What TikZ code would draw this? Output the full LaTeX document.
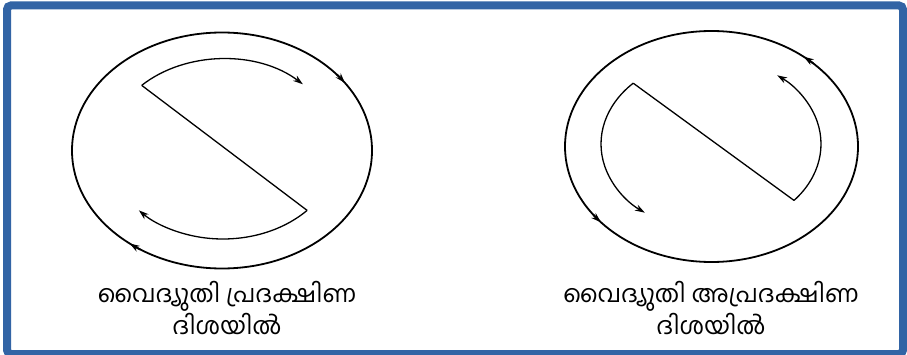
\documentclass[tikz,border=0pt]{standalone}
\usepackage{fontspec}
\newfontfamily\mlfont[Script=Malayalam]{Hind Kochi}
\usetikzlibrary{arrows.meta}
\definecolor{frameblue}{RGB}{50,100,165}
\begin{document}
\begin{tikzpicture}[x=1pt,y=1pt,
  outerline/.style={line width=1.8pt},
  innerline/.style={line width=1.3pt},
  tipped/.style={-{Stealth[length=10pt,width=6.5pt]}},
  lbl/.style={font=\mlfont\fontsize{24}{23}\selectfont, align=center, inner sep=0pt}]
\useasboundingbox (0,0) rectangle (907,354);
\fill[white] (0,0) rectangle (907,354);
\draw[frameblue, line width=8pt, rounded corners=4pt] (7,0) rectangle (903,348.5);

% ---------- left figure (clockwise) ----------
\coordinate (LO) at (222,203.5);
\coordinate (LI) at (223,205);
\draw[outerline] (LO) ellipse [x radius=150, y radius=118];
\draw[outerline, tipped] (LO) ++(40:150 and 118) arc[start angle=40, end angle=35, x radius=150, y radius=118];
\draw[outerline, tipped] (LO) ++(237:150 and 118) arc[start angle=237, end angle=232, x radius=150, y radius=118];
\draw[innerline, tipped] (LI) ++(135:115 and 90) arc[start angle=135, end angle=46, x radius=115, y radius=90];
\draw[innerline, tipped] (LI) ++(-43:115 and 90) arc[start angle=-43, end angle=-137, x radius=115, y radius=90];
\path (LI) ++(135:115 and 90) coordinate (la) (LI) ++(-43:115 and 90) coordinate (lb);
\draw[innerline] (la) -- (lb);

\node[lbl] (leftlabel) at (227,46) {വൈദ്യുതി പ്രദക്ഷിണ\\ദിശയിൽ};

% ---------- right figure (anticlockwise) ----------
\coordinate (RO) at (711.5,207.5);
\coordinate (RI) at (711,210);
\draw[outerline] (RO) ellipse [x radius=146.5, y radius=115.5];
\draw[outerline, tipped] (RO) ++(46:146.5 and 115.5) arc[start angle=46, end angle=51, x radius=146.5, y radius=115.5];
\draw[outerline, tipped] (RO) ++(216:146.5 and 115.5) arc[start angle=216, end angle=221, x radius=146.5, y radius=115.5];
\draw[innerline, tipped] (RI) ++(135:110 and 86) arc[start angle=135, end angle=233, x radius=110, y radius=86];
\draw[innerline, tipped] (RI) ++(-41:110 and 86) arc[start angle=-41, end angle=53, x radius=110, y radius=86];
\path (RI) ++(135:110 and 86) coordinate (ra) (RI) ++(-41:110 and 86) coordinate (rb);
\draw[innerline] (ra) -- (rb);

\node[lbl] (rightlabel) at (711,46) {വൈദ്യുതി അപ്രദക്ഷിണ\\ദിശയിൽ};
\end{tikzpicture}
\end{document}
